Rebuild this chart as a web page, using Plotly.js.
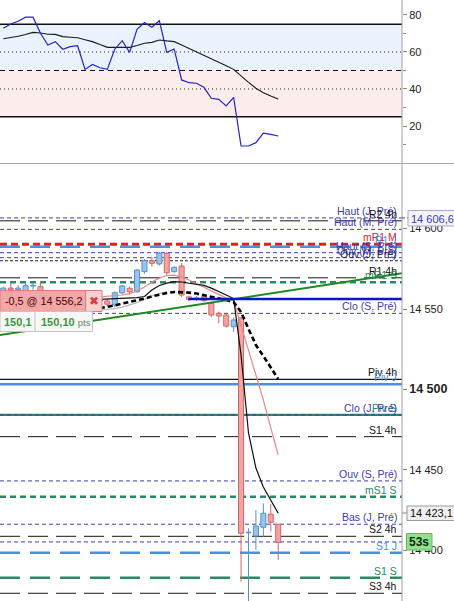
<!DOCTYPE html>
<html><head><meta charset="utf-8">
<script src="https://cdn.plot.ly/plotly-3.0.1.min.js"></script>
<style>html,body{margin:0;padding:0;background:#fff;overflow:hidden}#chart{width:454px;height:601px}</style>
</head><body><div id="chart"></div>
<script>
// ---------- DATA ----------
const candleOpen  = [14561,14563,14562,14560.8,14564.3,14563.9,14560.7,14558,14556,14557.5,14555,14556,14554,14555.5,14555,14552.5,14560.1,14562.9,14560.7,14573.2,14580,14578,14584.6,14573.2,14576.7,14557.5,14556.5,14557.6,14553.5,14547.3,14546.3,14539,14544.4,14411,14409,14414.4,14422.5,14416.3];
const candleHigh  = [14564,14566,14565,14566.8,14566.5,14567.5,14562,14560,14559,14559,14558,14558,14557,14557,14556.5,14561,14565,14564,14575,14581,14582.5,14585.6,14585.5,14576.5,14578.6,14558.5,14558,14558.5,14554.5,14548.3,14547,14544.8,14545,14413.8,14425.2,14429.3,14428.7,14416.5];
const candleLow   = [14559,14561,14560,14559.5,14562,14559,14556,14554,14554,14553,14553,14552,14552,14553,14551.5,14551,14559,14558.7,14560,14572,14576.3,14577,14571,14572.5,14557.5,14555,14555,14554.5,14545,14541.1,14538.5,14535.9,14380.6,14365,14400.4,14408.6,14411.7,14394];
const candleClose = [14563,14562,14563,14564.5,14564.6,14560.7,14558,14556,14557.5,14555,14556,14554,14555.5,14555,14553,14560.1,14564.3,14560.7,14574.2,14580,14578.4,14584.6,14572.5,14575.9,14558.7,14556,14556.8,14555.2,14546.3,14545.7,14539.4,14543.2,14410.7,14411.3,14415.2,14423.1,14417.5,14405.1];

const maFast   = [null,null,null,null,null,null,null,null,null,null,null,null,null,14556.0,14556.2,14556.5,14556.8,14557.0,14557.1,14557.8,14561.8,14564.6,14566.1,14567.0,14566.8,14566.0,14565.5,14564.7,14563.0,14561.1,14558.7,14556.5,14521.4,14473.0,14451.2,14439.4,14431.7,14423.1];
const maDashed = [null,null,null,null,null,null,null,null,null,null,null,null,null,14550.6,14551.2,14552.2,14553.4,14554.3,14555.3,14556.5,14557.8,14559.0,14560.0,14560.6,14560.6,14560.2,14559.6,14558.7,14557.8,14556.8,14555.6,14554.3,14548.1,14537.7,14527.6,14520.8,14513.4,14506.5];
const bandUpper= [null,null,null,null,null,null,null,null,null,null,null,null,null,14557.5,14557.8,14558.1,14558.7,14559.6,14561.2,14563.7,14566.8,14569.2,14570.8,14571.0,14570.0,14568.0,14565.8,14563.4,14560.9,14558.7,14556.8,14555.3,14540.0,14524.0,14509.0,14493.5,14476.1,14459.3];
const bandLower= [null,null,null,null,null,null,null,null,null,null,null,null,null,14549.4,14549.7,14550.3,14551.2,14552.5,14554.0,14555.9,14558.1,14559.6,14560.6,null,null,null,null,null,null,null,null,null,null,null,null,null,null,null];

const rsiValues    = [72.8,75.1,76.6,78.8,78.8,70.1,63.8,65.6,61.5,62.9,63.4,50.6,53.3,51.5,50.6,61.5,66.1,59.8,72.3,75.9,73.4,76.9,59.8,61.6,44.9,43.4,43.1,40.9,35.0,34.4,30.8,35.5,9.2,9.2,11.0,16.1,15.5,14.6];
const signalValues = [67.2,67.8,68.5,69.5,70.6,70.3,69.6,69.5,68.3,68.0,67.7,66.6,65.6,64.0,62.5,62.5,62.5,62.5,63.5,64.7,65.2,66.5,66.0,65.6,63.8,62.0,59.8,58.4,56.2,54.8,52.6,50.6,47.0,43.6,40.4,38.0,36.2,34.6];
const rsiBands = [25, 50, 75];
const rsiDotted = [40, 60];
const rsiTicks = [20, 40, 60, 80];
const rsiMinorTicks = [10, 30, 50, 70];

const levelNames  = ['Haut (J, Pré)','R2 4h','Haut (M, Pré)','mR1 M','R1 J','Haut (S, Pré)','Ouv (M, Pré)','Ouv (J, Pré)','R1 4h','mR1 S','Clo (S, Pré)','Piv 4h','Piv J','Piv S','Clo (J, Pré)','S1 4h','Ouv (S, Pré)','mS1 S','Bas (J, Pré)','S2 4h','','S1 J','S1 S','S3 4h'];
const levelValues = [14606.6,14604.8,14599.5,14590.2,14588.7,14585.0,14581.9,14580.0,14569.4,14566.6,14547.3,14506.3,14503.2,14484.2,14484.2,14470.7,14443.2,14433.4,14416.3,14408.8,14405.3,14398.6,14383.1,14373.4];
const levelKinds  = ['bd','kl','bd','rd','bl','bd','bd','kf','kl','gs','bd','ks','bs','gsol','bd','kl','bd','gs','bd','kl','bd','bl','gl','kl'];

const priceTicks = [14400,14450,14500,14550,14600];
const priceTickText = ['14 400','14 450','<span style="font-size:12.5px"><b>14 500</b></span>','14 550','14 600'];

const trendIdx = [-0.444, 53.66];
const trendPrice = [14533.9, 14572.2];
const orderPrice = 14556.2;
const orderStartIdx = 24.9;
const orderText = '-0,5 @ 14 556,2';
const pnlText = ['150,1', '150,10'];
const highBoxValue = '14 606,6';
const maBoxValue = '14 423,1';
const timerText = '53s';

// ---------- STYLE ----------
const FONT = 'Liberation Sans, Arial, sans-serif';
const PW = 402, W = 454, H = 601;
const px = x => x / PW;
const py = y => 1 - y / H;
const STY = {
  bd:{color:'#3b3bb5',width:1,dash:'4px,3px'},
  kl:{color:'#151515',width:1,dash:'20px,8px'},
  rd:{color:'#e31c1c',width:3,dash:'7px,4px'},
  bl:{color:'#4a8fe0',width:2.5,dash:'20px,10px'},
  gs:{color:'#268a63',width:2.5,dash:'6px,4px'},
  gl:{color:'#268a63',width:2.5,dash:'20px,10px'},
  ks:{color:'#151515',width:1.2,dash:'solid'},
  bs:{color:'#4a8fe0',width:2.5,dash:'solid'},
  gsol:{color:'#268a63',width:2.2,dash:'solid'},
  kf:{color:'#222222',width:1,dash:'3px,2px'}
};
const LBL = {bd:'#3b3bb5',kl:'#111',rd:'#e31c1c',bl:'#4a8fe0',gs:'#268a63',gl:'#268a63',ks:'#111',bs:'#4a8fe0',gsol:'#268a63',kf:'#22224a'};

const idx = candleOpen.map((_, i) => i);
const isUp = idx.map(i => candleClose[i] >= candleOpen[i]);
const UP_FILL='#95c6ee', UP_LINE='#5a8fc6', DN_FILL='#f4a3a3', DN_LINE='#cf6767';

const bodyBase = idx.map(i => Math.min(candleOpen[i], candleClose[i]));
const bodyH = idx.map(i => Math.max(Math.abs(candleClose[i]-candleOpen[i]), 0.35));
const traces = [];
function wick(up){
  const xs=[], ys=[];
  idx.forEach(i => {
    if (isUp[i] !== up) return;
    const lo = bodyBase[i], hi = bodyBase[i] + bodyH[i];
    xs.push(i,i,null,i,i,null);
    ys.push(candleLow[i],lo,null,hi,candleHigh[i],null);
  });
  return {type:'scatter',mode:'lines',x:xs,y:ys,line:{color:up?UP_LINE:DN_LINE,width:1},hoverinfo:'skip',connectgaps:false};
}
traces.push({type:'bar',x:idx,base:bodyBase,y:bodyH,width:0.68,
  marker:{color:idx.map(i=>isUp[i]?UP_FILL:DN_FILL),line:{color:idx.map(i=>isUp[i]?UP_LINE:DN_LINE),width:1}},hoverinfo:'skip'});
traces.push(wick(true), wick(false));
traces.push({type:'scatter',mode:'lines',x:idx,y:bandLower,line:{color:'#b9b9b9',width:1.2},hoverinfo:'skip'});
traces.push({type:'scatter',mode:'lines',x:idx,y:bandUpper,line:{color:'#e88787',width:1.2},hoverinfo:'skip'});
traces.push({type:'scatter',mode:'lines',x:idx,y:maDashed,line:{color:'#000',width:2.6,dash:'5px,3px'},hoverinfo:'skip'});
traces.push({type:'scatter',mode:'lines',x:idx,y:maFast,line:{color:'#111',width:1.2},hoverinfo:'skip'});
traces.push({type:'scatter',mode:'lines',x:trendIdx,y:trendPrice,line:{color:'#1f8a1f',width:2},hoverinfo:'skip'});
traces.push({type:'scatter',mode:'lines',x:[orderStartIdx, trendIdx[1]],y:[orderPrice, orderPrice],line:{color:'#0a14c8',width:2.5},hoverinfo:'skip'});
traces.push({type:'scatter',mode:'lines',x:idx,y:signalValues,yaxis:'y2',line:{color:'#1a1a1a',width:1.1},hoverinfo:'skip'});
traces.push({type:'scatter',mode:'lines',x:idx,y:rsiValues,yaxis:'y2',line:{color:'#2424cc',width:1.2},hoverinfo:'skip'});

const shapes = [];
shapes.push({type:'rect',xref:'paper',yref:'y2',x0:0,x1:1,y0:rsiBands[1],y1:rsiBands[2],fillcolor:'#eaf3fd',line:{width:0},layer:'below'});
shapes.push({type:'rect',xref:'paper',yref:'y2',x0:0,x1:1,y0:rsiBands[0],y1:rsiBands[1],fillcolor:'#fdecec',line:{width:0},layer:'below'});
shapes.push({type:'line',xref:'paper',yref:'y2',x0:0,x1:1,y0:rsiBands[2],y1:rsiBands[2],line:{color:'#111',width:1.3},layer:'below'});
shapes.push({type:'line',xref:'paper',yref:'y2',x0:0,x1:1,y0:rsiBands[0],y1:rsiBands[0],line:{color:'#111',width:1.3},layer:'below'});
shapes.push({type:'line',xref:'paper',yref:'y2',x0:0,x1:1,y0:rsiBands[1],y1:rsiBands[1],line:{color:'#111',width:1,dash:'5px,4px'},layer:'below'});
rsiDotted.forEach(v=>shapes.push({type:'line',xref:'paper',yref:'y2',x0:0,x1:1,y0:v,y1:v,line:{color:'#222',width:1,dash:'1px,3px'},layer:'below'}));
levelValues.forEach((v,k)=>{
  const s = STY[levelKinds[k]];
  shapes.push({type:'line',xref:'paper',yref:'y',x0:0,x1:1,y0:v,y1:v,line:{color:s.color,width:s.width,dash:s.dash},layer:'below'});
});
shapes.push({type:'line',xref:'paper',yref:'paper',x0:0,x1:W/PW,y0:py(163.5),y1:py(163.5),line:{color:'#a8a8a8',width:1},layer:'above'});
shapes.push({type:'line',xref:'paper',yref:'paper',x0:1,x1:1,y0:0,y1:1,line:{color:'#a0a0a0',width:1},layer:'above'});
shapes.push({type:'rect',xref:'paper',yref:'paper',x0:px(0),x1:px(85.5),y0:py(311.5),y1:py(290.5),fillcolor:'#f4a5a5',line:{color:'#de7c7c',width:1},layer:'above'});
shapes.push({type:'rect',xref:'paper',yref:'paper',x0:px(85.5),x1:px(102),y0:py(311.5),y1:py(290.5),fillcolor:'#f9cfcf',line:{color:'#de7c7c',width:1},layer:'above'});
shapes.push({type:'rect',xref:'paper',yref:'paper',x0:px(0),x1:px(92.5),y0:py(331.5),y1:py(311.5),fillcolor:'#f6f6f6',line:{color:'#c4c4c4',width:1},layer:'above'});
shapes.push({type:'line',xref:'paper',yref:'paper',x0:px(35),x1:px(35),y0:py(331.5),y1:py(311.5),line:{color:'#c4c4c4',width:1},layer:'above'});
shapes.push({type:'line',xref:'paper',yref:'y',x0:1,x1:px(408),y0:levelValues[0],y1:levelValues[0],line:{color:STY.bd.color,width:1,dash:'3px,2px'},layer:'above'});
shapes.push({type:'rect',xref:'paper',yref:'paper',x0:px(408),x1:px(456),y0:py(226),y1:py(210.5),fillcolor:'#f3f3fa',line:{color:'#a9a9c6',width:1},layer:'above'});
shapes.push({type:'line',xref:'paper',yref:'paper',x0:1,x1:px(407),y0:py(513),y1:py(513),line:{color:'#888',width:1},layer:'above'});
shapes.push({type:'rect',xref:'paper',yref:'paper',x0:px(407),x1:px(456),y0:py(520.5),y1:py(506),fillcolor:'#f0f0f0',line:{color:'#9a9a9a',width:1},layer:'above'});
shapes.push({type:'rect',xref:'paper',yref:'paper',x0:px(406.5),x1:px(432),y0:py(550),y1:py(533.5),fillcolor:'#8fe08f',line:{color:'#5cbc5c',width:1},layer:'above'});

const ann = [];
levelNames.forEach((t,k)=>{
  if(!t) return;
  ann.push({xref:'paper',yref:'y',x:px(398),y:levelValues[k],xanchor:'right',yanchor:'bottom',text:t,showarrow:false,
    font:{family:FONT,size:10.5,color:LBL[levelKinds[k]]},borderpad:0,yshift:0});
});
ann.push({xref:'paper',yref:'paper',x:px(3),y:py(301),xanchor:'left',yanchor:'middle',text:orderText,showarrow:false,font:{family:FONT,size:10.8,color:'#3a0a0a'}});
ann.push({xref:'paper',yref:'paper',x:px(94),y:py(301),xanchor:'center',yanchor:'middle',text:'✖',showarrow:false,font:{family:'DejaVu Sans',size:12,color:'#e23a3a'}});
ann.push({xref:'paper',yref:'paper',x:px(18),y:py(321.5),xanchor:'center',yanchor:'middle',text:'<b>'+pnlText[0]+'</b>',showarrow:false,font:{family:FONT,size:11,color:'#3b9a3b'}});
ann.push({xref:'paper',yref:'paper',x:px(39),y:py(321.5),xanchor:'left',yanchor:'middle',text:'<b>'+pnlText[1]+'</b> <span style="font-size:9.5px;color:#5f8f5f">pts</span>',showarrow:false,font:{family:FONT,size:11,color:'#3b9a3b'}});
ann.push({xref:'paper',yref:'paper',x:px(432),y:py(218.5),xanchor:'center',yanchor:'middle',text:highBoxValue,showarrow:false,font:{family:FONT,size:11,color:'#3b3bb5'}});
ann.push({xref:'paper',yref:'paper',x:px(431),y:py(513.3),xanchor:'center',yanchor:'middle',text:maBoxValue,showarrow:false,font:{family:FONT,size:11,color:'#111'}});
ann.push({xref:'paper',yref:'paper',x:px(419.2),y:py(541.8),xanchor:'center',yanchor:'middle',text:'<b>'+timerText+'</b>',showarrow:false,font:{family:FONT,size:12,color:'#0e2a0e'}});

const layout = {
  width:W,height:H,margin:{l:0,r:W-PW,t:0,b:0,pad:0},
  paper_bgcolor:'#ffffff',plot_bgcolor:'rgba(0,0,0,0)',showlegend:false,hovermode:false,
  xaxis:{range:[-0.444,53.66],visible:false,fixedrange:true},
  yaxis:{domain:[0,1-164/H],range:[14368.6,14640.1],side:'right',tickmode:'array',tickvals:priceTicks,ticktext:priceTickText,
    ticks:'outside',ticklen:4,tickcolor:'#8a8a8a',showgrid:false,zeroline:false,showline:false,
    tickfont:{family:FONT,size:11,color:'#222'},fixedrange:true},
  yaxis2:{domain:[1-163/H,1],range:[0,88.1],side:'right',anchor:'x',tickmode:'array',tickvals:rsiTicks,
    ticks:'outside',ticklen:4,tickcolor:'#8a8a8a',minor:{tickvals:rsiMinorTicks,ticks:'outside',ticklen:3,tickcolor:'#8a8a8a'},
    showgrid:false,zeroline:false,showline:false,tickfont:{family:FONT,size:11,color:'#222'},fixedrange:true},
  shapes:shapes,annotations:ann,barmode:'overlay'
};
Plotly.newPlot('chart',traces,layout,{staticPlot:true,displayModeBar:false});
</script></body></html>
